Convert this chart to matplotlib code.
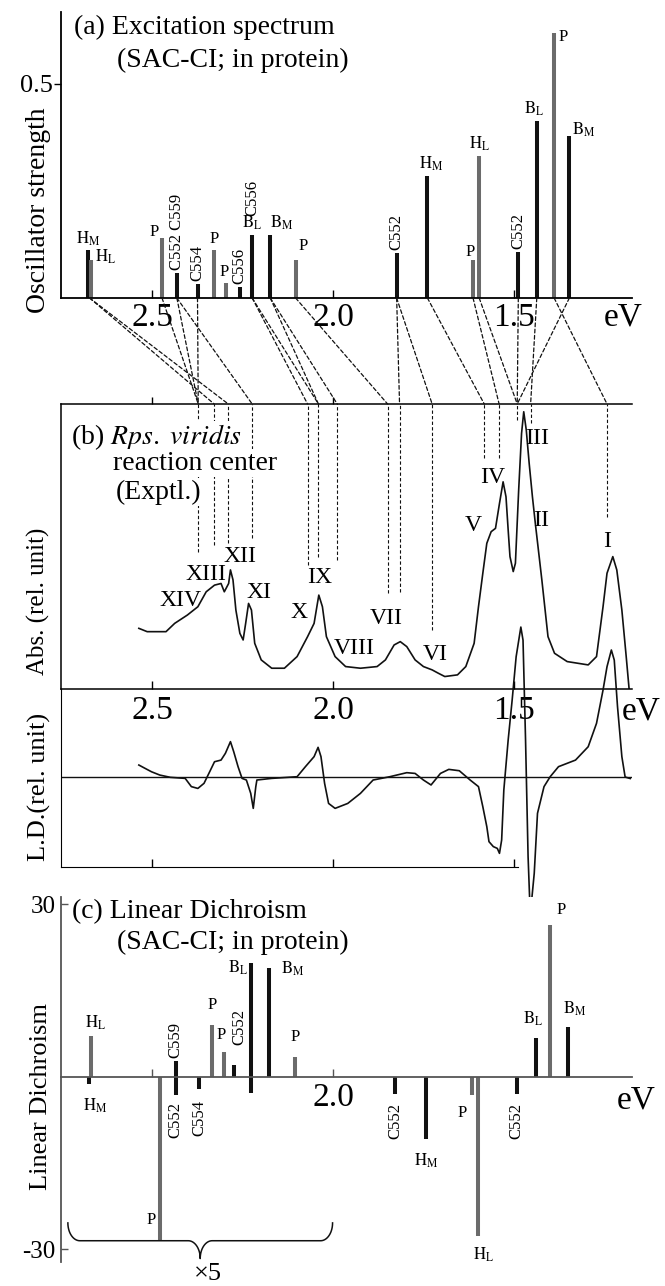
import numpy as np
import matplotlib.pyplot as plt
from matplotlib.patches import ConnectionPatch

plt.rcParams['font.family'] = ['Liberation Serif', 'DejaVu Serif']
plt.rcParams['mathtext.fontset'] = 'stix'
plt.rcParams['axes.unicode_minus'] = False

W, H = 665, 1286
EV_LEFT, EV_RIGHT = 2.752, 1.175

# (a) SAC-CI excitation energies (eV) and oscillator strengths
exc_ev = [2.678, 2.669, 2.473, 2.432, 2.375, 2.330, 2.296, 2.258, 2.224, 2.174, 2.104,
          1.825, 1.740, 1.614, 1.597, 1.489, 1.438, 1.390, 1.348]
exc_f = [0.112, 0.089, 0.140, 0.058, 0.033, 0.112, 0.035, 0.026, 0.147, 0.147, 0.089,
         0.105, 0.285, 0.089, 0.332, 0.107, 0.414, 0.619, 0.379]
exc_name = ['H_M', 'H_L', 'P', 'C552 C559', 'C554', 'P', 'P', 'C556', 'B_L', 'B_M', 'P',
            'C552', 'H_M', 'P', 'H_L', 'C552', 'B_L', 'P', 'B_M']

# (b) experimental absorption spectrum (rel. unit)
abs_ev = [2.537, 2.514, 2.462, 2.438, 2.403, 2.374, 2.351, 2.328, 2.310, 2.301, 2.289, 2.284,
          2.277, 2.269, 2.258, 2.249, 2.242, 2.234, 2.226, 2.217, 2.199, 2.170, 2.135, 2.100,
          2.071, 2.053, 2.040, 2.030, 2.019, 1.995, 1.966, 1.925, 1.879, 1.856, 1.832, 1.815,
          1.797, 1.774, 1.751, 1.727, 1.710, 1.692, 1.657, 1.634, 1.611, 1.599, 1.587, 1.576,
          1.564, 1.552, 1.541, 1.531, 1.523, 1.517, 1.512, 1.503, 1.497, 1.488, 1.480, 1.474,
          1.467, 1.459, 1.450, 1.442, 1.424, 1.407, 1.389, 1.354, 1.296, 1.273, 1.255, 1.244,
          1.228, 1.217, 1.203, 1.191, 1.183]
abs_val = [0.219, 0.207, 0.207, 0.237, 0.267, 0.297, 0.351, 0.375, 0.381, 0.351, 0.381, 0.430,
           0.394, 0.285, 0.201, 0.177, 0.237, 0.309, 0.285, 0.165, 0.105, 0.075, 0.075, 0.117,
           0.189, 0.237, 0.339, 0.297, 0.189, 0.117, 0.081, 0.075, 0.081, 0.105, 0.159, 0.171,
           0.153, 0.105, 0.081, 0.069, 0.057, 0.045, 0.051, 0.081, 0.165, 0.297, 0.418, 0.526,
           0.568, 0.580, 0.670, 0.748, 0.694, 0.574, 0.478, 0.424, 0.454, 0.718, 0.923, 1.001,
           0.935, 0.815, 0.694, 0.598, 0.394, 0.189, 0.129, 0.099, 0.087, 0.117, 0.297, 0.418,
           0.478, 0.430, 0.285, 0.117, 0.0]

# (b) experimental linear dichroism (rel. unit)
ldx_ev = [2.537, 2.520, 2.502, 2.479, 2.450, 2.409, 2.392, 2.374, 2.357, 2.339, 2.328, 2.310,
          2.298, 2.284, 2.275, 2.263, 2.252, 2.240, 2.228, 2.221, 2.214, 2.211, 2.170, 2.100,
          2.077, 2.053, 2.042, 2.034, 2.024, 2.013, 1.995, 1.960, 1.925, 1.890, 1.844, 1.797,
          1.774, 1.751, 1.730, 1.704, 1.681, 1.652, 1.622, 1.599, 1.587, 1.576, 1.570, 1.558,
          1.547, 1.541, 1.535, 1.529, 1.517, 1.506, 1.495, 1.482, 1.476, 1.469, 1.462, 1.456,
          1.445, 1.436, 1.418, 1.401, 1.378, 1.331, 1.296, 1.273, 1.255, 1.244, 1.232, 1.224,
          1.215, 1.203, 1.194, 1.180]
ldx_val = [0.080, 0.058, 0.035, 0.013, -0.002, -0.009, -0.064, -0.076, -0.042, 0.047, 0.102, 0.113,
           0.158, 0.236, 0.169, 0.069, -0.009, -0.020, -0.109, -0.209, -0.064, -0.020, -0.009, 0.002,
           0.069, 0.136, 0.198, 0.136, -0.042, -0.176, -0.209, -0.176, -0.109, -0.020, 0.002, 0.029,
           0.024, -0.020, -0.053, 0.024, 0.051, 0.042, -0.020, -0.064, -0.198, -0.331, -0.431, -0.464,
           -0.476, -0.509, -0.420, -0.087, 0.247, 0.513, 0.802, 1.000, 0.913, 0.247, -0.531, -0.920,
           -0.642, -0.242, -0.064, 0.002, 0.069, 0.113, 0.202, 0.358, 0.580, 0.736, 0.847, 0.780,
           0.469, 0.136, 0.000, -0.010]

band_names = ['XIV', 'XIII', 'XII', 'XI', 'X', 'IX', 'VIII', 'VII', 'VI', 'V', 'IV', 'III', 'II', 'I']
band_label_ev = [2.423, 2.351, 2.257, 2.205, 2.094, 2.037, 1.943, 1.854, 1.719, 1.614, 1.561,
                 1.437, 1.426, 1.244]
band_label_y = [0.321, 0.412, 0.477, 0.350, 0.278, 0.401, 0.148, 0.256, 0.123, 0.592, 0.765,
                0.906, 0.610, 0.531]

# experimental band positions used in the assignment, and where their marker lines stop
assign_ev = [2.373, 2.329, 2.290, 2.224, 2.071, 2.041, 1.989, 1.850, 1.817, 1.727, 1.583,
             1.542, 1.492, 1.455, 1.244]
assign_end = [0.495, 0.520, 0.527, 0.545, 0.448, 0.477, 0.466, 0.347, 0.350, 0.213, 0.834,
              0.834, 0.971, 0.960, 0.621]

# calculated state -> experimental band
link_calc = [2.673, 2.673, 2.473, 2.432, 2.432, 2.375, 2.224, 2.224, 2.174, 2.174, 2.104,
             1.825, 1.825, 1.740, 1.614, 1.597, 1.489, 1.438, 1.390, 1.348]
link_exp = [2.329, 2.290, 2.373, 2.373, 2.224, 2.373, 2.071, 2.041, 2.041, 1.989, 1.850,
            1.817, 1.727, 1.583, 1.542, 1.492, 1.492, 1.455, 1.244, 1.492]

# (c) SAC-CI linear dichroism
cld_ev = [2.675, 2.668, 2.478, 2.435, 2.435, 2.371, 2.335, 2.303, 2.275, 2.227, 2.227, 2.177,
          2.106, 1.829, 1.743, 1.618, 1.600, 1.493, 1.441, 1.401, 1.353]
cld_val = [-1.2, 7.1, -28.3, 2.8, -3.1, -2.1, 9.0, 4.4, 2.1, 19.8, -2.8, 19.0,
           3.4, -3.0, -10.8, -3.1, -27.7, -3.0, 6.7, 26.4, 8.7]
cld_name = ['H_M', 'H_L', 'P', 'C559', 'C552', 'C554', 'P', 'P', 'C552', 'B_L', '', 'B_M',
            'P', 'C552', 'H_M', 'P', 'H_L', 'C552', 'B_L', 'P', 'B_M']

ev_ticks = [2.5, 2.0, 1.5]

BLACK = '#111111'
GRAY = '#6b6b6b'
DASH = (0, (3, 2))


def col(name):
    return GRAY if name in ('P', 'H_L') else BLACK


def lab(name):
    if '_' in name:
        return r'$\mathrm{%s}$' % name
    return name


fig = plt.figure(figsize=(W / 100, H / 100), dpi=100)


def box(left, top, right, bottom):
    return fig.add_axes([left / W, 1 - bottom / H, (right - left) / W, (bottom - top) / H])


def ftext(x, y, s, **kw):
    return fig.text(x / W, 1 - y / H, s, **kw)


# ---------------- (a) ----------------
ax_a = box(61, 12, 632, 298)
ax_a.vlines(exc_ev, 0, exc_f, colors=[col(n) for n in exc_name], lw=2.9)
ax_a.set_xlim(EV_LEFT, EV_RIGHT)
ax_a.set_ylim(0, 0.668)
for s in ['top', 'right']:
    ax_a.spines[s].set_visible(False)
for s in ['left', 'bottom']:
    ax_a.spines[s].set_linewidth(1.3)
ax_a.set_xticks(ev_ticks)
ax_a.set_xticklabels(['2.5', '2.0', '1.5'], fontsize=24)
ax_a.tick_params(axis='x', direction='in', length=6, width=1, pad=3)
ax_a.set_yticks([0.5])
ax_a.set_yticklabels(['0.5'], fontsize=19)
ax_a.tick_params(axis='y', direction='out', length=5, width=1, pad=1)
ax_a.annotate('eV', (1.199, 0), xytext=(0, -3), textcoords='offset points',
              ha='center', va='top', fontsize=24, annotation_clip=False)

# label placement: (ha, dx px, dy px)
a_lab_pos = [('center', 0, 2), ('left', 4, -6), ('right', -3, -2), ('center', 0, 3),
             ('center', 0, 3), ('center', 0, 3), ('center', -2, 3), ('center', 0, 3),
             ('center', 0, 3), ('left', 0, 3), ('left', 3, 6), ('center', 0, 3),
             ('center', 4, 3), ('right', 2, 0), ('center', 0, 3), ('center', 0, 3),
             ('center', -3, 3), ('left', 4, -12), ('left', 3, -3)]
for e, f, n, (ha, dx, dy) in zip(exc_ev, exc_f, exc_name, a_lab_pos):
    rot = 90 if n.startswith('C') else 0
    ax_a.annotate(lab(n), (e, f), xytext=(dx * 0.72, dy * 0.72), textcoords='offset points',
                  ha=ha, va='bottom', rotation=rot, fontsize=12)
# C556 state hidden under the B_L bar
ax_a.annotate('C556', (exc_ev[8], exc_f[8]), xytext=(0, 19 * 0.72), textcoords='offset points',
              ha='center', va='bottom', rotation=90, fontsize=12)

ftext(74, 27, '(a) Excitation spectrum', fontsize=20, va='center')
ftext(117, 60, '(SAC-CI; in protein)', fontsize=20, va='center')
ftext(39, 210, 'Oscillator strength', fontsize=20, rotation=90, ha='center', va='center')

# ---------------- (b) ----------------
ABS_TOP = 1.029
ax_abs = box(61, 404, 632, 689)
ax_abs.plot(abs_ev, abs_val, color=BLACK, lw=1.2)
ax_abs.set_xlim(EV_LEFT, EV_RIGHT)
ax_abs.set_ylim(0, ABS_TOP)
ax_abs.spines['right'].set_visible(False)
for s in ['left', 'top', 'bottom']:
    ax_abs.spines[s].set_linewidth(1.1)
ax_abs.set_yticks([])
ax_abs.set_xticks(ev_ticks)
ax_abs.set_xticklabels(['2.5', '2.0', '1.5'], fontsize=24)
ax_abs.tick_params(axis='x', direction='in', length=6, width=1, pad=5)
top_ax = ax_abs.secondary_xaxis('top')
top_ax.set_xticks([2.5, 2.0])
top_ax.set_xticklabels([])
top_ax.tick_params(direction='out', length=5, width=1)
top_ax.spines['top'].set_visible(False)
ax_abs.annotate('eV', (1.150, 0), xytext=(0, -5), textcoords='offset points',
                ha='center', va='top', fontsize=24, annotation_clip=False)

ax_abs.vlines(assign_ev, assign_end, ABS_TOP, colors=BLACK, lw=0.8, linestyles=DASH)
for name, e, y in zip(band_names, band_label_ev, band_label_y):
    ax_abs.text(e, y, name, fontsize=17, ha='center', va='center')

ax_ld = box(61, 689, 632, 867)
ax_ld.patch.set_visible(False)
ax_ld.plot(ldx_ev, ldx_val, color=BLACK, lw=1.2, clip_on=False)
ax_ld.axhline(0, color=BLACK, lw=1.0)
ax_ld.set_xlim(EV_LEFT, EV_RIGHT)
ax_ld.set_ylim(-0.6, 0.587)
for s in ['top', 'right']:
    ax_ld.spines[s].set_visible(False)
ax_ld.spines['bottom'].set_bounds(1.49, EV_LEFT)
ax_ld.set_yticks([])
ax_ld.set_xticks(ev_ticks)
ax_ld.set_xticklabels([])
ax_ld.tick_params(axis='x', direction='in', length=6, width=1)

for ec, ee in zip(link_calc, link_exp):
    fig.add_artist(ConnectionPatch(xyA=(ec, 0), coordsA=ax_a.transData,
                                   xyB=(ee, ABS_TOP), coordsB=ax_abs.transData,
                                   color=BLACK, lw=0.9, linestyle=DASH))

white = dict(facecolor='white', edgecolor='none', pad=1)
ftext(71, 437, r'(b) $\mathit{Rps.\ viridis}$', fontsize=20, va='center', bbox=white)
ftext(113, 463, 'reaction center', fontsize=20, va='center', bbox=white)
ftext(116, 492, '(Exptl.)', fontsize=20, va='center', bbox=white)
ftext(38, 601, 'Abs. (rel. unit)', fontsize=18, rotation=90, ha='center', va='center')
ftext(39, 787, 'L.D.(rel. unit)', fontsize=19, rotation=90, ha='center', va='center')

# ---------------- (c) ----------------
ax_c = box(61, 897, 632, 1262)
ax_c.vlines(cld_ev, 0, cld_val, colors=[col(n) for n in cld_name], lw=2.9)
ax_c.set_xlim(EV_LEFT, EV_RIGHT)
ax_c.set_ylim(-32.2, 31.3)
for s in ['top', 'right']:
    ax_c.spines[s].set_visible(False)
ax_c.spines['bottom'].set_position(('data', 0))
ax_c.spines['left'].set_color('#555555')
ax_c.spines['bottom'].set_color('#555555')
for s in ['left', 'bottom']:
    ax_c.spines[s].set_linewidth(1.3)
ax_c.set_yticks([30, -30])
ax_c.set_yticklabels(['30', '-30'], fontsize=18)
ax_c.tick_params(axis='y', direction='in', length=5, width=1, pad=4, color='#555555')
ax_c.set_xticks([2.5, 2.0])
ax_c.set_xticklabels(['', '2.0'], fontsize=24)
ax_c.tick_params(axis='x', direction='in', length=6, width=1, pad=4, color='#555555')
ax_c.annotate('eV', (1.163, 0), xytext=(0, -6), textcoords='offset points',
              ha='center', va='top', fontsize=24, annotation_clip=False)

c_lab_pos = [('center', 6, -13), ('center', 4, 4), ('right', -4, 12), ('center', 0, 3),
             ('center', 0, -7), ('center', 0, -11), ('center', 0, 12), ('center', -2, 9),
             ('center', 6, 20), ('right', -3, -14), ('center', 0, 0), ('left', 12, -10),
             ('center', 0, 12), ('center', 0, -9), ('center', 0, -13), ('right', -5, -10),
             ('center', 5, -9), ('center', 0, -9), ('center', -3, 10), ('left', 6, 7),
             ('center', 7, 9)]
for e, v, n, (ha, dx, dy) in zip(cld_ev, cld_val, cld_name, c_lab_pos):
    if not n:
        continue
    rot = 90 if n.startswith('C') else 0
    va = 'bottom' if v > 0 else 'top'
    if n == 'P' and v < -20:
        va = 'bottom'
    ax_c.annotate(lab(n), (e, v), xytext=(dx * 0.72, dy * 0.72), textcoords='offset points',
                  ha=ha, va=va, rotation=rot, fontsize=12)

# brace marking the x5 scaled region
br_left, br_right, br_y, br_h, br_r = 2.733, 2.002, -28.5, 3.1, 0.033
uL, uR = -br_left, -br_right
uC = 0.5 * (uL + uR)
t = np.linspace(0, np.pi / 2, 25)
us = np.concatenate([
    uL + br_r - br_r * np.cos(t),
    uC - br_r + br_r * np.sin(t),
    uC + br_r - br_r * np.cos(t),
    uR - br_r + br_r * np.sin(t),
])
ys = np.concatenate([
    br_y + br_h - br_h * np.sin(t),
    br_y - br_h + br_h * np.cos(t),
    br_y - br_h + br_h * np.sin(t),
    br_y + br_h - br_h * np.cos(t),
])
ax_c.plot(-us, ys, color=BLACK, lw=1.1, clip_on=False)
ax_c.text(2.346, -34.3, '×5', fontsize=19, ha='center', va='center')

ftext(72, 912, '(c) Linear Dichroism', fontsize=20, va='center')
ftext(117, 942, '(SAC-CI; in protein)', fontsize=20, va='center')
ftext(41, 1097, 'Linear Dichroism', fontsize=19, rotation=90, ha='center', va='center')

fig.savefig('out.png', dpi=100)
